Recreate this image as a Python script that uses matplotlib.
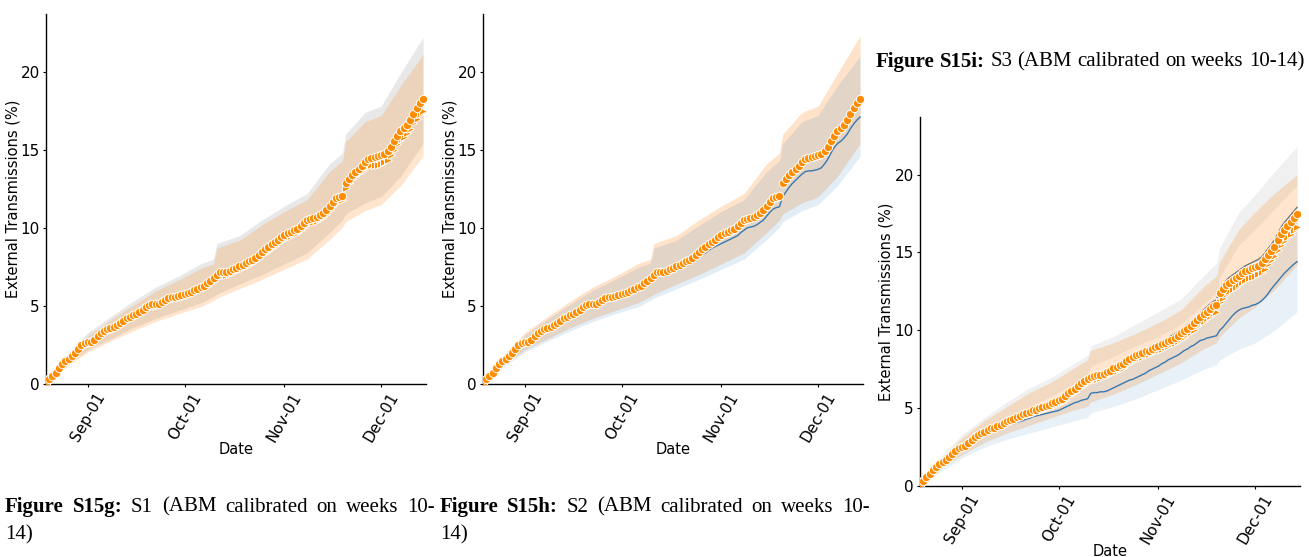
import numpy as np
import pandas as pd
import matplotlib
matplotlib.use("Agg")
import matplotlib.pyplot as plt
import matplotlib.dates as mdates

# ---------------- data ----------------
start_date = "2020-08-19"
n_days = 118
dates = pd.date_range(start_date, periods=n_days, freq="D")

# circles (S1 and S2 panels)
circ_s12 = [0.0, 0.3, 0.5, 0.7, 1.0, 1.3, 1.5, 1.6, 1.8, 2.0, 2.25, 2.5, 2.65,
            2.7, 2.7, 2.85, 3.05, 3.25, 3.4, 3.55, 3.6, 3.65, 3.75, 3.9, 4.05, 4.2,
            4.3, 4.4, 4.5, 4.6, 4.75, 4.95, 5.05, 5.1, 5.1, 5.15, 5.25, 5.4, 5.5,
            5.55, 5.6, 5.65, 5.7, 5.75, 5.8, 5.9, 6.0, 6.1, 6.2, 6.3, 6.45, 6.6,
            6.8, 7.0, 7.15, 7.2, 7.2, 7.25, 7.35, 7.45, 7.55, 7.65, 7.75, 7.85, 7.95,
            8.1, 8.25, 8.45, 8.65, 8.8, 8.95, 9.1, 9.25, 9.4, 9.55, 9.65, 9.75, 9.85,
            9.95, 10.1, 10.3, 10.5, 10.6, 10.65, 10.7, 10.8, 10.95, 11.15, 11.4, 11.65, 11.9,
            12.0, 12.05, 12.85, 13.15, 13.4, 13.6, 13.8, 13.95, 14.2, 14.4, 14.5, 14.55, 14.6,
            14.65, 14.75, 14.9, 15.2, 15.55, 15.9, 16.2, 16.4, 16.6, 16.9, 17.3, 17.7, 18.0, 18.25]

tri_s1 = [0.0, 0.3, 0.5, 0.7, 0.95, 1.25, 1.45, 1.55, 1.75, 1.95, 2.2, 2.4, 2.55,
          2.6, 2.6, 2.75, 2.95, 3.15, 3.3, 3.45, 3.5, 3.55, 3.65, 3.8, 3.95, 4.1,
          4.2, 4.3, 4.4, 4.5, 4.65, 4.85, 4.95, 5.0, 5.0, 5.05, 5.15, 5.3, 5.4,
          5.45, 5.5, 5.55, 5.6, 5.65, 5.7, 5.8, 5.9, 6.0, 6.1, 6.2, 6.3, 6.45,
          6.6, 6.8, 6.95, 7.0, 7.0, 7.05, 7.15, 7.25, 7.35, 7.45, 7.55, 7.65, 7.75,
          7.9, 8.05, 8.25, 8.4, 8.55, 8.7, 8.85, 9.0, 9.15, 9.3, 9.4, 9.5, 9.6,
          9.7, 9.85, 10.05, 10.25, 10.35, 10.4, 10.45, 10.55, 10.7, 10.9, 11.15, 11.4, 11.65,
          11.75, 11.8, 12.55, 12.85, 13.1, 13.3, 13.5, 13.65, 13.85, 13.95, 14.0, 14.0, 14.05,
          14.1, 14.2, 14.35, 14.65, 15.0, 15.35, 15.65, 15.85, 16.05, 16.35, 16.7, 17.0, 17.3, 17.5]

blue_s2 = [0.0, 0.25, 0.45, 0.65, 0.95, 1.25, 1.45, 1.55, 1.75, 1.95, 2.2, 2.45, 2.6,
           2.65, 2.65, 2.8, 3.0, 3.2, 3.35, 3.5, 3.55, 3.6, 3.7, 3.85, 3.95, 4.1,
           4.2, 4.3, 4.4, 4.5, 4.65, 4.85, 4.95, 5.0, 5.0, 5.05, 5.15, 5.25, 5.35,
           5.4, 5.45, 5.5, 5.5, 5.55, 5.6, 5.7, 5.8, 5.9, 6.0, 6.05, 6.15, 6.3,
           6.45, 6.65, 6.85, 6.9, 6.9, 6.95, 7.05, 7.15, 7.25, 7.35, 7.45, 7.55, 7.65,
           7.75, 7.9, 8.1, 8.3, 8.4, 8.55, 8.7, 8.8, 8.9, 9.0, 9.1, 9.2, 9.3,
           9.4, 9.5, 9.7, 9.85, 10.0, 10.05, 10.1, 10.2, 10.35, 10.5, 10.75, 11.0, 11.2,
           11.3, 11.35, 12.0, 12.3, 12.6, 12.85, 13.05, 13.25, 13.45, 13.6, 13.65, 13.65, 13.7,
           13.75, 13.85, 14.1, 14.4, 14.8, 15.15, 15.4, 15.55, 15.75, 16.0, 16.35, 16.65, 16.9, 17.1]

circ_s3 = [0.0, 0.35, 0.55, 0.8, 1.05, 1.25, 1.4, 1.55, 1.65, 1.85, 2.05, 2.25, 2.45,
           2.5, 2.6, 2.75, 2.95, 3.15, 3.3, 3.4, 3.5, 3.6, 3.7, 3.75, 3.85, 3.95,
           4.05, 4.15, 4.25, 4.3, 4.4, 4.5, 4.6, 4.7, 4.75, 4.85, 4.9, 5.0, 5.05,
           5.15, 5.2, 5.3, 5.4, 5.5, 5.6, 5.75, 5.95, 6.1, 6.25, 6.4, 6.6, 6.75,
           6.9, 7.0, 7.05, 7.1, 7.15, 7.2, 7.3, 7.4, 7.55, 7.65, 7.75, 7.85, 8.0,
           8.15, 8.3, 8.4, 8.5, 8.55, 8.65, 8.7, 8.8, 8.9, 9.0, 9.1, 9.2, 9.3,
           9.4, 9.5, 9.65, 9.8, 9.95, 10.1, 10.25, 10.45, 10.65, 10.85, 11.05, 11.2, 11.4,
           11.55, 11.65, 12.4, 12.65, 12.9, 13.05, 13.2, 13.35, 13.5, 13.65, 13.8, 13.9, 14.0,
           14.05, 14.15, 14.3, 14.55, 14.85, 15.1, 15.35, 15.8, 16.2, 16.45, 16.7, 16.95, 17.2, 17.5]

tri_s3 = [0.0, 0.3, 0.5, 0.75, 1.0, 1.2, 1.35, 1.5, 1.6, 1.8, 2.0, 2.2, 2.4,
          2.45, 2.5, 2.65, 2.85, 3.05, 3.2, 3.3, 3.4, 3.5, 3.6, 3.65, 3.75, 3.85,
          3.95, 4.05, 4.15, 4.2, 4.3, 4.4, 4.5, 4.55, 4.6, 4.7, 4.75, 4.85, 4.9,
          5.0, 5.05, 5.15, 5.2, 5.3, 5.4, 5.55, 5.75, 5.9, 6.05, 6.2, 6.35, 6.5,
          6.65, 6.75, 6.85, 6.9, 6.95, 7.0, 7.1, 7.2, 7.3, 7.4, 7.5, 7.6, 7.75,
          7.9, 8.05, 8.15, 8.25, 8.3, 8.4, 8.45, 8.55, 8.65, 8.75, 8.8, 8.9, 9.0,
          9.1, 9.2, 9.3, 9.45, 9.6, 9.75, 9.9, 10.05, 10.25, 10.45, 10.6, 10.8, 10.95,
          11.1, 11.2, 11.85, 12.1, 12.35, 12.5, 12.65, 12.8, 12.95, 13.1, 13.25, 13.35, 13.45,
          13.5, 13.6, 13.75, 13.95, 14.25, 14.5, 14.75, 15.15, 15.5, 15.75, 16.0, 16.2, 16.45, 16.65]

blue_s3 = [0.0, 0.3, 0.5, 0.75, 1.0, 1.2, 1.35, 1.5, 1.6, 1.8, 2.0, 2.2, 2.35,
           2.4, 2.5, 2.6, 2.8, 3.0, 3.1, 3.15, 3.25, 3.35, 3.45, 3.5, 3.6, 3.7,
           3.75, 3.85, 3.95, 4.0, 4.1, 4.15, 4.2, 4.3, 4.35, 4.45, 4.5, 4.55, 4.6,
           4.65, 4.7, 4.75, 4.8, 4.85, 4.95, 5.05, 5.15, 5.25, 5.35, 5.4, 5.5, 5.55,
           5.6, 5.95, 6.0, 6.0, 6.05, 6.05, 6.1, 6.2, 6.3, 6.4, 6.5, 6.6, 6.7,
           6.8, 6.85, 6.95, 7.05, 7.15, 7.25, 7.4, 7.5, 7.6, 7.7, 7.85, 7.95, 8.1,
           8.2, 8.3, 8.4, 8.55, 8.7, 8.8, 8.95, 9.05, 9.2, 9.35, 9.4, 9.5, 9.55,
           9.6, 9.65, 10.0, 10.2, 10.45, 10.7, 10.95, 11.15, 11.3, 11.4, 11.45, 11.5, 11.6,
           11.65, 11.75, 11.9, 12.1, 12.35, 12.65, 12.9, 13.15, 13.4, 13.65, 13.85, 14.05, 14.25, 14.4]

grey_s3 = [0.0, 0.35, 0.55, 0.8, 1.05, 1.25, 1.4, 1.55, 1.7, 1.9, 2.1, 2.3, 2.5,
           2.55, 2.65, 2.8, 3.0, 3.2, 3.35, 3.45, 3.55, 3.65, 3.75, 3.8, 3.9, 4.0,
           4.1, 4.2, 4.3, 4.35, 4.45, 4.55, 4.65, 4.75, 4.8, 4.9, 4.95, 5.05, 5.1,
           5.2, 5.3, 5.4, 5.5, 5.6, 5.7, 5.85, 6.05, 6.2, 6.35, 6.5, 6.7, 6.85,
           7.0, 7.1, 7.2, 7.25, 7.3, 7.35, 7.45, 7.55, 7.7, 7.8, 7.9, 8.0, 8.15,
           8.3, 8.45, 8.55, 8.65, 8.75, 8.85, 8.9, 9.0, 9.1, 9.2, 9.3, 9.4, 9.5,
           9.65, 9.75, 9.9, 10.05, 10.2, 10.35, 10.5, 10.7, 10.9, 11.1, 11.3, 11.5, 11.7,
           11.85, 11.95, 12.7, 12.95, 13.2, 13.4, 13.55, 13.7, 13.85, 14.0, 14.15, 14.25, 14.35,
           14.45, 14.55, 14.7, 14.95, 15.25, 15.5, 15.8, 16.2, 16.6, 16.9, 17.15, 17.4, 17.65, 17.9]

# uncertainty bands, sampled on a coarser set of days
band_day_offsets = [0, 7, 13, 20, 27, 34, 41, 48, 52, 53, 60, 67, 74, 81, 88, 92, 93, 99, 104, 110, 117]

s1_grey_hi = [0, 2.0, 3.3, 4.3, 5.3, 6.2, 6.9, 7.7, 8.0, 9.0, 9.5, 10.5, 11.4, 12.2, 14.1, 14.8, 16.0, 17.4, 17.8, 19.9, 22.2]
s1_grey_lo = [0, 1.3, 2.2, 2.9, 3.6, 4.2, 4.7, 5.2, 5.6, 5.75, 6.4, 7.0, 7.7, 8.4, 9.7, 10.5, 10.9, 11.6, 12.0, 13.3, 15.4]
s1_orng_hi = [0, 1.8, 3.1, 4.1, 5.05, 5.95, 6.65, 7.4, 7.7, 8.7, 9.2, 10.2, 11.05, 11.8, 13.6, 14.3, 15.5, 16.8, 17.2, 19.1, 21.1]
s1_orng_lo = [0, 1.2, 2.05, 2.75, 3.4, 4.0, 4.5, 4.95, 5.35, 5.5, 6.1, 6.7, 7.35, 8.0, 9.25, 10.05, 10.4, 11.1, 11.5, 12.7, 14.6]

s2_orng_hi = [0, 2.0, 3.3, 4.3, 5.3, 6.2, 6.9, 7.7, 8.0, 9.0, 9.5, 10.5, 11.4, 12.2, 14.1, 14.8, 16.0, 17.4, 17.8, 19.9, 22.3]
s2_orng_lo = [0, 1.3, 2.2, 2.9, 3.6, 4.2, 4.7, 5.2, 5.6, 5.75, 6.4, 7.0, 7.7, 8.4, 9.7, 10.5, 10.9, 11.6, 12.0, 13.3, 15.4]
s2_blue_hi = [0, 1.85, 3.15, 4.15, 5.1, 6.0, 6.7, 7.45, 7.75, 8.7, 9.2, 10.15, 11.05, 11.8, 13.6, 14.3, 15.4, 16.8, 17.2, 19.1, 21.0]
s2_blue_lo = [0, 1.2, 2.05, 2.75, 3.4, 4.0, 4.5, 4.95, 5.35, 5.5, 6.1, 6.7, 7.35, 8.0, 9.25, 10.05, 10.4, 11.1, 11.5, 12.7, 14.6]

s3_grey_hi = [0, 2.0, 3.3, 4.4, 5.4, 6.3, 7.0, 7.9, 8.4, 9.0, 9.6, 10.4, 11.2, 12.0, 13.5, 14.3, 15.3, 17.6, 18.7, 20.2, 21.8]
s3_grey_lo = [0, 1.6, 2.6, 3.5, 4.3, 5.1, 5.8, 6.6, 7.0, 7.7, 8.3, 9.0, 9.6, 10.4, 11.7, 12.4, 13.4, 15.5, 16.5, 17.8, 19.3]
s3_orng_hi = [0, 1.9, 3.1, 4.2, 5.1, 6.0, 6.7, 7.6, 8.1, 8.7, 9.2, 9.8, 10.5, 11.3, 12.8, 13.5, 14.4, 16.5, 17.6, 18.8, 20.0]
s3_orng_lo = [0, 1.2, 2.0, 2.8, 3.4, 3.9, 4.4, 4.9, 5.1, 5.4, 5.9, 6.5, 7.2, 7.9, 8.8, 9.2, 9.6, 10.8, 11.5, 12.6, 14.2]
s3_blue_hi = [0, 1.6, 2.6, 3.5, 4.1, 4.8, 5.3, 6.2, 6.6, 7.0, 7.5, 8.3, 9.0, 9.8, 11.0, 11.7, 12.4, 13.5, 14.1, 15.5, 17.6]
s3_blue_lo = [0, 1.0, 1.8, 2.5, 3.0, 3.4, 3.8, 4.2, 4.4, 4.7, 5.1, 5.6, 6.2, 6.8, 7.5, 7.8, 8.1, 8.8, 9.2, 10.0, 11.2]

tick_dates = ["2020-09-01", "2020-10-01", "2020-11-01", "2020-12-01"]
y_ticks = [0, 5, 10, 15, 20]

captions = [
    (["Figure", "S15g:"], ["S1", "(ABM", "calibrated", "on", "weeks", "10-"], "14)"),
    (["Figure", "S15h:"], ["S2", "(ABM", "calibrated", "on", "weeks", "10-"], "14)"),
    (["Figure", "S15i:"], ["S3", "(ABM", "calibrated", "on", "weeks", "10-14)"], None),
]

# ---------------- style ----------------
ORANGE = "#ff8c00"
ORANGE_FILL = "#ff7f0e"
BLUE = "#3a78b0"
BLUE_FILL = "#1f77b4"
GREY = "#777777"

band_dates = pd.to_datetime(start_date) + pd.to_timedelta(band_day_offsets, unit="D")

fig = plt.figure(figsize=(13.09, 5.57), dpi=100)
W, H = 1309.0, 557.0

def make_ax(left, top, bottom, width=380):
    return fig.add_axes([left / W, (H - bottom) / H, width / W, (bottom - top) / H])

ax1 = make_ax(46, 14, 384)
ax2 = make_ax(483, 14, 384)
ax3 = make_ax(920, 117, 486)

def band(ax, lo, hi, color, alpha):
    ax.fill_between(band_dates, lo, hi, color=color, alpha=alpha, linewidth=0)

def markers(ax, values, marker, ms):
    ax.plot(dates, values, linestyle="none", marker=marker, ms=ms, color=ORANGE,
            mec="white", mew=0.7, zorder=5)

# panel 1
band(ax1, s1_grey_lo, s1_grey_hi, "#808080", 0.18)
band(ax1, s1_orng_lo, s1_orng_hi, ORANGE_FILL, 0.20)
markers(ax1, tri_s1, ">", 5.5)
markers(ax1, circ_s12, "o", 6.0)

# panel 2
band(ax2, s2_orng_lo, s2_orng_hi, ORANGE_FILL, 0.22)
band(ax2, s2_blue_lo, s2_blue_hi, BLUE_FILL, 0.13)
ax2.plot(dates, blue_s2, color=BLUE, lw=1.0, zorder=4)
markers(ax2, circ_s12, "o", 6.0)

# panel 3
band(ax3, s3_grey_lo, s3_grey_hi, "#a0a0a0", 0.15)
band(ax3, s3_orng_lo, s3_orng_hi, ORANGE_FILL, 0.20)
band(ax3, s3_blue_lo, s3_blue_hi, BLUE_FILL, 0.10)
ax3.plot(dates, blue_s3, color=BLUE, lw=1.0, zorder=4)
ax3.plot(dates, grey_s3, color=GREY, lw=1.0, zorder=4)
markers(ax3, tri_s3, ">", 5.5)
markers(ax3, circ_s3, "o", 6.0)

xmin = pd.Timestamp(start_date)
xmax = dates[-1] + pd.Timedelta(hours=22)
for ax, ylx in ((ax1, -0.066), (ax2, -0.066), (ax3, -0.071)):
    ax.set_xlim(xmin, xmax)
    ax.set_ylim(0, 23.7)
    ax.set_yticks(y_ticks)
    ax.set_xticks(pd.to_datetime(tick_dates))
    ax.xaxis.set_major_formatter(mdates.DateFormatter("%b-%d"))
    ax.tick_params(axis="both", labelsize=11, colors="black", length=2.5, width=0.8, pad=2)
    for lab in ax.get_xticklabels():
        lab.set_rotation(60)
    for s in ("top", "right"):
        ax.spines[s].set_visible(False)
    for s in ("left", "bottom"):
        ax.spines[s].set_linewidth(1.0)
    ax.set_xlabel("Date", fontsize=10.5)
    ax.set_ylabel("External Transmissions (%)", fontsize=10.5)
    ax.yaxis.set_label_coords(ylx, 0.5)
    ax.xaxis.set_label_coords(0.5, -0.158)

# captions
serif = "Liberation Serif"
cap_size = 15
renderer = fig.canvas.get_renderer()

def caption_line(bold_words, reg_words, x0, x1, ypx, justify):
    words = [(w, "bold") for w in bold_words] + [(w, "normal") for w in reg_words]
    arts = []
    for w, wt in words:
        arts.append(fig.text(0, 1 - ypx / H, w, fontfamily=serif, fontweight=wt,
                             fontsize=cap_size, va="center", ha="left"))
    widths = [a.get_window_extent(renderer).width for a in arts]
    t_sp = fig.text(0, 0, "a b", fontfamily=serif, fontsize=cap_size)
    t_nsp = fig.text(0, 0, "ab", fontfamily=serif, fontsize=cap_size)
    sw = t_sp.get_window_extent(renderer).width - t_nsp.get_window_extent(renderer).width
    t_sp.remove()
    t_nsp.remove()
    if justify:
        gap = (x1 - x0 - sum(widths)) / (len(words) - 1)
    else:
        gap = sw
    x = x0
    for a, wdt in zip(arts, widths):
        a.set_x(x / W)
        x += wdt + gap

cap_pos = [(5, 435, 507, 535, True), (440, 870, 507, 535, True), (876, 1305, 62, None, False)]
for (bw, rw, line2), (x0, x1, y1, y2, just) in zip(captions, cap_pos):
    caption_line(bw, rw, x0, x1, y1, just)
    if line2 is not None:
        fig.text(x0 / W, 1 - y2 / H, line2, fontfamily=serif, fontsize=cap_size,
                 va="center", ha="left")

fig.savefig("out.png", dpi=100)
